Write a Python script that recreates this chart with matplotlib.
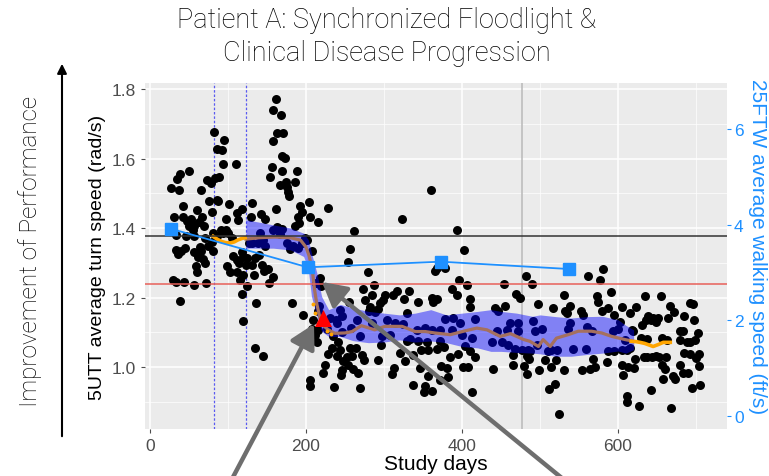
import matplotlib.pyplot as plt
from matplotlib.patches import FancyArrowPatch

# 5UTT daily turn speed samples: (study day, rad/s)
turn_points = [
    (82, 1.675), (94.5, 1.654), (85.5, 1.627), (92.3, 1.625), (93.2, 1.585), (109.9, 1.583),
    (50.4, 1.563), (38.5, 1.555), (35.1, 1.542), (73.5, 1.539), (77.8, 1.529), (83.3, 1.544),
    (88.5, 1.546), (27.4, 1.515), (36.8, 1.508), (65, 1.51), (75.2, 1.477), (85.5, 1.481),
    (87.2, 1.477), (101.3, 1.47), (41.9, 1.462), (60.7, 1.453), (79.1, 1.445), (30.4, 1.432),
    (42.8, 1.433), (52.2, 1.427), (67.1, 1.431), (97.5, 1.427), (112, 1.443), (117.5, 1.455),
    (112.8, 1.424), (47, 1.419), (53.4, 1.414), (62.8, 1.416), (50, 1.405), (56.9, 1.407),
    (68.8, 1.407), (55.6, 1.395), (91.5, 1.395), (97.9, 1.395), (81.2, 1.387), (100.5, 1.385),
    (85.5, 1.376), (94, 1.385), (45.7, 1.376), (56.9, 1.376), (32.9, 1.38), (70.5, 1.371),
    (104.7, 1.37), (74.8, 1.347), (79.1, 1.359), (80.4, 1.333), (33.3, 1.336), (39.3, 1.335),
    (44.9, 1.343), (35.5, 1.326), (56, 1.331), (63.7, 1.344), (65.4, 1.333), (61.1, 1.318),
    (68.4, 1.312), (70.5, 1.299), (106.9, 1.32), (111.1, 1.309), (117.5, 1.331), (114.6, 1.299),
    (119.7, 1.318), (58.6, 1.29), (59.8, 1.272), (98.3, 1.29), (102.6, 1.273), (111.1, 1.273),
    (115.4, 1.251), (29.1, 1.249), (32.9, 1.244), (44, 1.246), (56.9, 1.235), (72.2, 1.242),
    (118.4, 1.21), (38.9, 1.191), (118.8, 1.131),
    (161.1, 1.772), (158.1, 1.74), (168, 1.724), (163.3, 1.673), (171, 1.673), (157.3, 1.649),
    (169.7, 1.608), (173.1, 1.601), (156.4, 1.577), (169.3, 1.565), (188.1, 1.565), (153.9, 1.546),
    (174, 1.531), (166.7, 1.524), (185.9, 1.531), (175.2, 1.517), (176.5, 1.505), (177.8, 1.491),
    (130.8, 1.472), (203.4, 1.474), (192.3, 1.462), (161.6, 1.455), (228.7, 1.459), (194.9, 1.445),
    (190.2, 1.433), (141.9, 1.44), (147.5, 1.426), (205.2, 1.431), (215.4, 1.418), (191.5, 1.414),
    (185.9, 1.405), (168.8, 1.398), (158.1, 1.395), (163.3, 1.402), (141, 1.385), (129.1, 1.433),
    (138.9, 1.357), (130.4, 1.357), (145.3, 1.366), (198.7, 1.371), (175.2, 1.357), (200.9, 1.366),
    (147.5, 1.347), (190.2, 1.342), (179.5, 1.34), (134.6, 1.313), (140.2, 1.323), (123.9, 1.313),
    (123.1, 1.294), (130.4, 1.294), (144, 1.294), (151.7, 1.282), (146.2, 1.275), (133.4, 1.264),
    (158.1, 1.259), (119.7, 1.264), (123.9, 1.232), (152.6, 1.242), (218.8, 1.232), (135.9, 1.184),
    (181.6, 1.184), (195.8, 1.149), (207.3, 1.109), (215.8, 1.107), (212, 1.093), (214.6, 1.071),
    (227.4, 1.109), (235.1, 1.088), (134.6, 1.055), (145.3, 1.033), (241.5, 1.071), (232.9, 1.055),
    (228.7, 1.038), (224.4, 1.007), (222.2, 0.983), (205.2, 0.963), (205.6, 0.946), (236.4, 0.942),
    (239.3, 1.031), (209.4, 1.134), (216.3, 1.177), (127.4, 1.357), (143.2, 1.368), (164.6, 1.4),
    (166.7, 1.384), (183.8, 1.347), (194.5, 1.357), (207.3, 1.333), (218, 1.256), (212.4, 1.242),
    (215.8, 1.16), (230.8, 1.141), (238.5, 1.136),
    (360.3, 1.508), (322.7, 1.426), (262, 1.392), (256, 1.34), (254.3, 1.302), (279.1, 1.273),
    (287.2, 1.235), (273.5, 1.225), (285.1, 1.206), (301.3, 1.206), (312, 1.206), (317.1, 1.22),
    (332.1, 1.218), (326.1, 1.196), (299.2, 1.194), (275.7, 1.192), (255.6, 1.187), (343.2, 1.187),
    (361.1, 1.2), (363.3, 1.187), (282.1, 1.173), (294.9, 1.184), (291.9, 1.167), (288.5, 1.157),
    (281.2, 1.16), (329.1, 1.155), (243.6, 1.165), (245.7, 1.146), (265, 1.134), (284.2, 1.126),
    (303.4, 1.134), (314.1, 1.126), (324.8, 1.125), (341.9, 1.107), (352.6, 1.112), (361.1, 1.107),
    (239.3, 1.126), (246.6, 1.102), (257.7, 1.112), (269.3, 1.088), (297, 1.09), (307.7, 1.093),
    (333.4, 1.08), (344.1, 1.074), (354.7, 1.071), (329.1, 1.074), (243.6, 1.05), (256.4, 1.055),
    (264.1, 1.055), (252.2, 1.028), (259.4, 1.033), (272.2, 1.035), (274.4, 1.021), (247.5, 1.018),
    (254.3, 1.007), (291.9, 1.019), (295.8, 1.062), (320.5, 1.04), (326.9, 1.018), (337.6, 1.035),
    (347.5, 1.05), (356.9, 1.05), (312.9, 0.997), (309.9, 0.98), (245.7, 0.99), (260.7, 0.994),
    (267.1, 0.983), (244.5, 0.976), (269.3, 0.941), (337.6, 0.949), (352.6, 0.944), (351.7, 0.928),
    (361.1, 0.93), (346.2, 0.997), (356, 0.973),
    (393.2, 1.395), (403, 1.336), (482.1, 1.263), (453.9, 1.24), (406, 1.237), (396.2, 1.251),
    (387.6, 1.224), (394, 1.208), (365.4, 1.275), (367.5, 1.285), (378.2, 1.285), (469.3, 1.211),
    (474.4, 1.2), (410.3, 1.196), (410.3, 1.174), (442.3, 1.17), (446.6, 1.16), (455.2, 1.176),
    (367.5, 1.196), (378.2, 1.138), (388.9, 1.141), (397.5, 1.126), (416.7, 1.138), (461.6, 1.128),
    (472.3, 1.126), (371.8, 1.107), (386.8, 1.107), (399.6, 1.091), (412.4, 1.083), (444.5, 1.103),
    (457.3, 1.107), (472.3, 1.103), (438.1, 1.071), (450.9, 1.072), (459.4, 1.064), (468, 1.053),
    (476.5, 1.05), (485.1, 1.05), (371.8, 1.074), (368.4, 1.053), (377, 1.057), (403.9, 1.061),
    (410.3, 1.047), (395.3, 1.037), (384.6, 1.029), (416.7, 1.029), (465.9, 1.035), (482.9, 1.032),
    (372.7, 1.002), (380.4, 0.997), (400.9, 1.001), (407.3, 0.999), (440.2, 0.994), (465.9, 1.007),
    (479.5, 1.002), (482.9, 0.98), (382.5, 0.971), (371.8, 0.962), (412.4, 0.928),
    (490.2, 1.24), (580.4, 1.283), (562, 1.261), (577, 1.251), (531.2, 1.206), (591.1, 1.216),
    (497.9, 1.181), (517.1, 1.17), (538.5, 1.176), (532.1, 1.16), (534.2, 1.155), (552.6, 1.162),
    (555.6, 1.15), (572.7, 1.203), (574, 1.186), (579.1, 1.162), (586.8, 1.17), (595.3, 1.15),
    (602.6, 1.129), (605.6, 1.173), (491.5, 1.131), (493.6, 1.105), (503, 1.109), (538.5, 1.126),
    (536.4, 1.11), (559.9, 1.115), (566.3, 1.103), (594.1, 1.103), (600.5, 1.109), (487.2, 1.045),
    (495.8, 1.064), (510.7, 1.045), (514.1, 1.05), (522.3, 1.05), (542.8, 1.052), (559, 1.052),
    (586.8, 1.047), (595.3, 1.047), (604.7, 1.05), (485.9, 1.023), (506.4, 1.021), (520.5, 1.019),
    (498.8, 0.99), (513.7, 0.999), (530.8, 0.992), (554.3, 0.992), (564.1, 0.994), (570.6, 1.0),
    (568.4, 1.023), (585.5, 1.013), (604.7, 1.007), (606, 0.976), (512, 0.937), (519.3, 0.951),
    (524.4, 0.866),
    (634.7, 1.203), (654.7, 1.203), (666.7, 1.177), (672.3, 1.157), (692.4, 1.184), (695.8, 1.181),
    (623.1, 1.173), (615.4, 1.155), (638.9, 1.146), (644.5, 1.141), (650.9, 1.141), (635.9, 1.134),
    (642.3, 1.134), (648.8, 1.129), (663.7, 1.141), (685.1, 1.146), (697.5, 1.136), (630.4, 1.12),
    (679.5, 1.103), (683, 1.105), (703, 1.098), (698.8, 1.079), (688.1, 1.071), (692.4, 1.071),
    (679.5, 1.079), (656, 1.083), (662.4, 1.079), (629.1, 1.083), (636.8, 1.08), (619.7, 1.105),
    (685.1, 1.04), (692.4, 1.038), (703.9, 1.038), (700, 1.026), (633.4, 1.029), (637.6, 1.029),
    (643.2, 1.029), (648.8, 1.031), (652.6, 1.029), (661.6, 1.029), (621.8, 1.023), (620.5, 0.997),
    (613.3, 1.0), (656, 1.007), (660.3, 0.994), (679.5, 1.007), (658.2, 0.966), (670.1, 0.973),
    (673.1, 0.965), (682.9, 0.983), (690.2, 0.983), (703.9, 1.004), (694.5, 0.941), (705.2, 0.949),
    (642.3, 0.933), (611.1, 0.918), (612, 0.898), (627.4, 0.887), (668, 0.882), (617.6, 1.107),
    (609, 1.079), (615.4, 1.055), (611.1, 1.05),
]
turn_days = [p[0] for p in turn_points]
turn_speed = [p[1] for p in turn_points]

# smoothed trend (brown) with confidence band
trend_days = [123, 140, 160, 180, 193, 200, 204, 208, 211, 214, 218, 223, 228, 237, 250, 259, 271,
              288, 301, 323, 340, 353, 365, 385, 402, 419, 432, 449, 462, 479, 487, 498, 504, 513,
              521, 536, 549, 566, 579, 592, 609, 620]
trend_val = [1.368, 1.372, 1.374, 1.372, 1.365, 1.345, 1.32, 1.28, 1.222, 1.18, 1.14, 1.118, 1.108,
             1.097, 1.098, 1.102, 1.119, 1.107, 1.117, 1.117, 1.102, 1.102, 1.098, 1.093, 1.103,
             1.112, 1.107, 1.088, 1.096, 1.079, 1.074, 1.059, 1.079, 1.059, 1.083, 1.093, 1.103,
             1.103, 1.098, 1.088, 1.079, 1.074]
band_days = [123, 158, 180, 197, 203, 207, 214, 220, 229, 244, 260, 280, 300, 320, 340, 360, 380,
             400, 420, 437, 450, 470, 490, 500, 520, 540, 560, 580, 600, 610, 620]
band_hi = [1.424, 1.409, 1.40, 1.385, 1.366, 1.328, 1.27, 1.203, 1.165, 1.18, 1.17, 1.16, 1.155,
           1.15, 1.155, 1.165, 1.15, 1.155, 1.16, 1.165, 1.16, 1.155, 1.146, 1.15, 1.145, 1.141,
           1.145, 1.146, 1.136, 1.12, 1.107]
band_lo = [1.342, 1.342, 1.337, 1.318, 1.28, 1.203, 1.146, 1.103, 1.088, 1.088, 1.076, 1.07, 1.072,
           1.078, 1.072, 1.075, 1.07, 1.059, 1.055, 1.045, 1.045, 1.042, 1.04, 1.038, 1.031,
           1.031, 1.036, 1.04, 1.046, 1.04, 1.05]

# orange segments
early_days = [81, 86, 92, 97, 103, 108, 113, 118, 122]
early_val = [1.376, 1.368, 1.361, 1.358, 1.357, 1.36, 1.366, 1.37, 1.372]
late_days = [617, 623, 628, 634, 639, 645, 652, 658, 667]
late_val = [1.074, 1.073, 1.071, 1.068, 1.064, 1.059, 1.065, 1.071, 1.071]
gap_days = [208.6, 211.6, 227.4, 231.6]
gap_val = [1.182, 1.155, 1.103, 1.096]

# 25FTW clinic visits
ftw_days = [26.5, 202.2, 372.7, 537.2]
ftw_speed = [3.916, 3.109, 3.226, 3.073]

# markers
relapse_day, relapse_val = 221.4, 1.141
dashed_days = [82, 123]
gray_day = 476.5
black_level = 1.377
red_level = 1.239

W, H = 769, 477
fig = plt.figure(figsize=(W / 100, H / 100), dpi=100)
ax = fig.add_axes([145 / W, 1 - 430 / H, 582 / W, 346 / H])
ax.set_facecolor('#EBEBEB')
for s in ax.spines.values():
    s.set_visible(False)

ax.set_xlim(-6.4, 739.7)
ax.set_ylim(0.8216, 1.8173)
ax.set_xticks([0, 200, 400, 600])
ax.set_xticks([100, 300, 500, 700], minor=True)
ax.set_yticks([1.0, 1.2, 1.4, 1.6, 1.8])
ax.set_yticks([0.9, 1.1, 1.3, 1.5, 1.7], minor=True)
ax.set_yticklabels(['1.0', '1.2', '1.4', '1.6', '1.8'])
ax.grid(which='major', color='white', lw=1.1, zorder=0)
ax.grid(which='minor', color='white', lw=0.5, zorder=0)
ax.set_axisbelow(True)
ax.tick_params(which='major', length=3, color='#4D4D4D', labelcolor='#4D4D4D', labelsize=12.5)
ax.tick_params(which='minor', length=0)

font = ['Liberation Sans', 'DejaVu Sans']
thin = ['Roboto', 'DejaVu Sans']
for t in ax.get_xticklabels() + ax.get_yticklabels():
    t.set_family(font)

for d in dashed_days:
    ax.axvline(d, color='#5A5AF0', lw=0.9, ls=(0, (2, 1.5)), zorder=1)
ax.axvline(gray_day, color='#BDBDBD', lw=1.2, zorder=1)

ax.scatter(turn_days, turn_speed, s=42, color='black', lw=0, zorder=2)
ax.fill_between(band_days, band_lo, band_hi, color='blue', alpha=0.45, lw=0, zorder=3)
ax.plot(trend_days, trend_val, color='#A5705E', lw=2.3, zorder=4)
ax.plot(early_days, early_val, color='#FFA500', lw=2.6, zorder=4)
ax.plot(late_days, late_val, color='#FFA500', lw=2.6, zorder=4)
ax.scatter(gap_days, gap_val, s=8, color='#FFA500', lw=0, zorder=4)
ax.axhline(black_level, color='#333333', lw=1.1, zorder=5)
ax.axhline(red_level, color='#E8605A', lw=1.1, zorder=5)
ax.scatter([relapse_day], [relapse_val], marker='^', s=150, color='red', lw=0, zorder=6)

ax.set_xlabel('Study days', fontsize=15, family=font, labelpad=1)
ax.set_ylabel('5UTT average turn speed (rad/s)', fontsize=14, family=font, labelpad=4)

ax2 = ax.twinx()
for s in ax2.spines.values():
    s.set_visible(False)
ax2.set_ylim(-0.272, 6.962)
ax2.set_yticks([0, 2, 4, 6])
ax2.tick_params(length=3, pad=2, color='#1E90FF', labelcolor='#1E90FF', labelsize=12.5)
for t in ax2.get_yticklabels():
    t.set_family(font)
ax2.plot(ftw_days, ftw_speed, color='#1E90FF', lw=1.3, marker='s', ms=9, zorder=7)
ax2.set_ylabel('25FTW average walking speed (ft/s)', color='#1E90FF', fontsize=15,
               family=font, rotation=270)
ax2.yaxis.set_label_coords(1.068, 0.53)

fig.text(387 / W, 1 - 37 / H, 'Patient A: Synchronized Floodlight &\nClinical Disease Progression',
         ha='center', va='center', fontsize=19.5, family=thin, fontweight='light',
         color='black', linespacing=1.3)
fig.text(30 / W, 1 - 251 / H, 'Improvement of Performance', rotation=90, ha='center',
         va='center', fontsize=17.5, family=thin, fontweight='light', color='black')

fig.add_artist(FancyArrowPatch((62 / W, 1 - 440 / H), (62 / W, 1 - 62 / H),
                               transform=fig.transFigure, arrowstyle='-|>',
                               mutation_scale=14, lw=1.5, color='black'))
for tail, tip in [((232, 480), (314, 325)), ((563, 480), (322, 283))]:
    fig.add_artist(FancyArrowPatch((tail[0] / W, 1 - tail[1] / H), (tip[0] / W, 1 - tip[1] / H),
                                   transform=fig.transFigure,
                                   arrowstyle='-|>,head_length=0.9,head_width=0.5',
                                   mutation_scale=16, lw=3.2, color='#6E6E6E',
                                   shrinkA=0, shrinkB=0, zorder=10))

fig.savefig('out.png', dpi=100)
